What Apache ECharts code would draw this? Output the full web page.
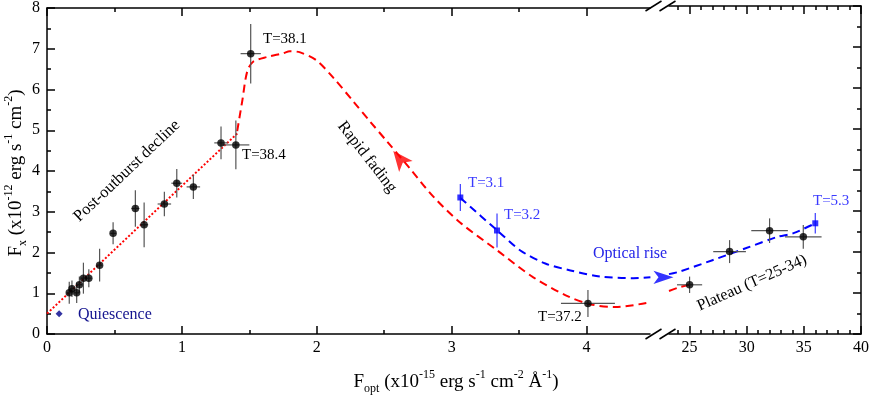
<!DOCTYPE html>
<html><head><meta charset="utf-8">
<script src="https://cdn.jsdelivr.net/npm/echarts@6/dist/echarts.min.js"></script>
<style>html,body{margin:0;padding:0;background:#fff}#c{width:872px;height:398px}</style>
</head><body><div id="c"></div>
<script>
// ---------- DATA ----------
// [x, y, xErr, yErr]  (low x segment, 0 - 4.5)
const blackLow = [
  [0.165,1.01,0.02,0.27],[0.185,1.11,0.02,0.2],[0.22,1.01,0.02,0.25],[0.24,1.21,0.02,0.2],
  [0.27,1.37,0.02,0.38],[0.31,1.37,0.02,0.22],[0.39,1.69,0.02,0.4],[0.49,2.47,0.02,0.27],
  [0.655,3.08,0.03,0.45],[0.72,2.68,0.03,0.55],[0.87,3.19,0.05,0.3],[0.962,3.70,0.04,0.35],
  [1.085,3.61,0.05,0.3],[1.29,4.69,0.05,0.4],[1.40,4.64,0.10,0.6],[1.51,6.88,0.075,0.73],
  [4.01,0.75,0.2,0.33]
];
// high x segment (23 - 40)
const blackHigh = [[25.0,1.2,1.1,0.2],[28.5,2.01,1.43,0.28],[32.0,2.52,1.6,0.3],[34.95,2.37,1.6,0.29]];
const blueLow = [[3.064,3.35,0,0.33],[3.336,2.54,0,0.42]];
const blueHigh = [[36.0,2.70,0,0.25]];
const quiescence = [[0.09,0.50]];
const fitLine = [[0,0.5],[1.42,4.95]];
const redCurveLow = [[1.41,4.98],[1.447,5.71],[1.484,6.44],[1.528,6.68],[1.632,6.80],[1.751,6.89],
  [1.80,6.94],[1.877,6.91],[1.996,6.72],[2.122,6.29],[2.27,5.71],[2.396,5.21],[2.522,4.72],
  [2.693,4.05],[2.864,3.37],[3.064,2.73],[3.338,2.05],[3.605,1.39],[3.858,0.93],[4.028,0.73],
  [4.214,0.66],[4.473,0.78]];
const redCurveHigh = [[23.2,1.05],[24.0,1.13],[25.0,1.2]];
const blueCurveLow = [[3.064,3.34],[3.338,2.54],[3.509,2.05],[3.694,1.73],[3.88,1.56],[4.102,1.41],
  [4.347,1.37],[4.473,1.39]];
const blueCurveHigh = [[23.2,1.46],[24.1,1.52],[27.0,1.80],[29.9,2.09],[32.7,2.37],[34.1,2.46],[36.0,2.70]];
const redArrow = [[2.567,4.49]];
const blueArrow = [[4.644,1.39]];
const xMajorLow = [0,1,2,3,4];
const xMinorLow = [0.5,1.5,2.5,3.5];
const xMajorHigh = [25,30,35,40];
const xMinorHigh = [24,26,27,28,29,31,32,33,34,36,37,38,39];
const xRangeLow = [0,4.47];
const xRangeHigh = [23.2,40];
const yRange = [0,8];

// ---------- CHART ----------
const FONT = "'Liberation Serif','Times New Roman',serif";
const chart = echarts.init(document.getElementById('c'), null, {renderer:'canvas'});
const lineSty = {color:'#000', width:1.5};

function xAxisDef(grid, pos, range, ticks, len, showLine, labels){
  return {
    type:'value', gridIndex:grid, position:pos, min:range[0], max:range[1],
    axisLine:{show:showLine, onZero:false, lineStyle:lineSty},
    axisTick:{show:true, inside:true, length:len, customValues:ticks, lineStyle:lineSty},
    axisLabel:{show:!!labels, customValues:ticks, margin:6, color:'#000', fontSize:16, fontFamily:FONT},
    splitLine:{show:false}
  };
}
function yAxisDef(grid,pos,labels){
  return {type:'value', gridIndex:grid, position:pos, min:yRange[0], max:yRange[1], interval:1,
    axisLine:{show:true, onZero:false, lineStyle:lineSty},
    axisTick:{show:true, inside:true, length:8, lineStyle:lineSty},
    minorTick:{show:true, splitNumber:2, length:4, lineStyle:lineSty},
    axisLabel:{show:labels, margin:7, color:'#000', fontSize:16, fontFamily:FONT},
    splitLine:{show:false}};
}
function errSeries(data, xi, yi, color){
  return {type:'custom', xAxisIndex:xi, yAxisIndex:yi, data:data, z:3, silent:true,
    renderItem:function(params, api){
      const x=api.value(0), y=api.value(1), ex=api.value(2), ey=api.value(3);
      const st={stroke:color, lineWidth:1.2};
      const ch=[];
      if(ey>0){const a=api.coord([x,y-ey]), b=api.coord([x,y+ey]);
        ch.push({type:'line',shape:{x1:a[0],y1:a[1],x2:b[0],y2:b[1]},style:st});}
      if(ex>0){const a=api.coord([x-ex,y]), b=api.coord([x+ex,y]);
        ch.push({type:'line',shape:{x1:a[0],y1:a[1],x2:b[0],y2:b[1]},style:st});}
      return {type:'group',children:ch};
    }};
}
function curve(data, xi, yi, color, type, smooth){
  return {type:'line', xAxisIndex:xi, yAxisIndex:yi, data:data, showSymbol:false, smooth:smooth,
    z:2, lineStyle:{color:color, width:2, type:type}, silent:true};
}
function pts(data, xi, yi, color, symbol, size){
  return {type:'scatter', xAxisIndex:xi, yAxisIndex:yi, data:data.map(d=>[d[0],d[1]]), symbol:symbol,
    symbolSize:size, itemStyle:{color:color}, z:5, silent:true};
}
const rt = (s)=>({fontSize:s, fontFamily:FONT, color:'#000', lineHeight:26});
const richT = {n:rt(19), sup:Object.assign(rt(12),{verticalAlign:'top'}), sub:Object.assign(rt(12),{verticalAlign:'bottom'})};
function txt(x,y,t,color,size,rotDeg,align){
  return {type:'text', x:x, y:y, rotation:(rotDeg||0)*Math.PI/180, z:10,
    style:{text:t, fill:color, font:size+'px '+FONT, align:align||'left', verticalAlign:'middle'}};
}
function slash(x,y){ return {type:'line', shape:{x1:x-8,y1:y+5,x2:x+8,y2:y-5}, style:{stroke:'#000', lineWidth:1.5}, z:10}; }

const option = {
  animation:false,
  grid:[{left:47, top:6, width:603, height:328},{left:669, top:6, width:196, height:328}],
  xAxis:[
    xAxisDef(0,'bottom',xRangeLow,xMajorLow,8,true,true),
    xAxisDef(0,'bottom',xRangeLow,xMinorLow,4,false,false),
    xAxisDef(0,'top',xRangeLow,xMajorLow,8,true,false),
    xAxisDef(0,'top',xRangeLow,xMinorLow,4,false,false),
    xAxisDef(1,'bottom',xRangeHigh,xMajorHigh,8,true,true),
    xAxisDef(1,'bottom',xRangeHigh,xMinorHigh,4,false,false),
    xAxisDef(1,'top',xRangeHigh,xMajorHigh,8,true,false),
    xAxisDef(1,'top',xRangeHigh,xMinorHigh,4,false,false)
  ],
  yAxis:[yAxisDef(0,'left',true), yAxisDef(1,'right',false)],
  series:[
    curve(fitLine,0,0,'#ff0000',[2,2],false),
    curve(redCurveLow,0,0,'#ff0000',[8,5],0.3),
    curve(redCurveHigh,4,1,'#ff0000',[8,5],0.3),
    curve(blueCurveLow,0,0,'#0000ff',[8,5],0.3),
    curve(blueCurveHigh,4,1,'#0000ff',[8,5],0.3),
    errSeries(blackLow,0,0,'#555'),
    errSeries(blackHigh,4,1,'#555'),
    errSeries(blueLow,0,0,'#3a3aff'),
    errSeries(blueHigh,4,1,'#3a3aff'),
    pts(blackLow,0,0,'#000','circle',7.5),
    pts(blackHigh,4,1,'#000','circle',7.5),
    pts(blueLow,0,0,'#0000ff','rect',6),
    pts(blueHigh,4,1,'#0000ff','rect',6),
    pts(quiescence,0,0,'#00008b','diamond',7),
    Object.assign(pts(redArrow,0,0,'#ff0000','arrow',[13,20]),{symbolRotate:39, clip:false}),
    Object.assign(pts(blueArrow,0,0,'#0000ff','arrow',[10,20]),{symbolRotate:-90, clip:false})
  ],
  graphic:[
    txt(263,39,'T=38.1','#000',15),
    txt(242,155,'T=38.4','#000',15),
    txt(538,317,'T=37.2','#000',15),
    txt(468,183,'T=3.1','#3a3aff',15),
    txt(504,215,'T=3.2','#3a3aff',15),
    txt(813,201,'T=5.3','#3a3aff',15),
    txt(78,315,'Quiescence','#14148f',16),
    txt(593,254,'Optical rise','#2525e8',16),
    txt(127,171,'Post-outburst decline','#000',16.5,43.6,'center'),
    txt(367,157,'Rapid fading','#000',16.5,-52,'center'),
    txt(752,283,'Plateau (T=25-34)','#000',16,24,'center'),
    {type:'text', x:16, y:173, rotation:Math.PI/2, z:10,
      style:{text:'{n|F}{sub|x}{n| (x10}{sup|-12}{n| erg s}{sup|-1}{n| cm}{sup|-2}{n|)}', rich:richT, align:'center', verticalAlign:'middle'}},
    {type:'text', x:456, y:382, z:10,
      style:{text:'{n|F}{sub|opt}{n| (x10}{sup|-15}{n| erg s}{sup|-1}{n| cm}{sup|-2}{n| Å}{sup|-1}{n|)}', rich:richT, align:'center', verticalAlign:'middle'}},
    slash(653.5,6), slash(667.5,6), slash(653.5,334), slash(667.5,334)
  ]
};
chart.setOption(option);
</script></body></html>
